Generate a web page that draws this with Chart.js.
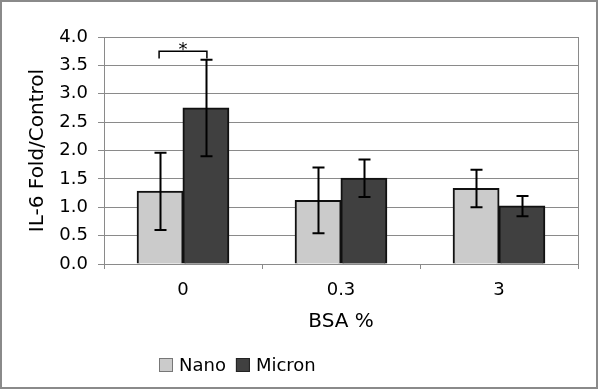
<!DOCTYPE html>
<html>
<head>
<meta charset="utf-8">
<script src="https://cdn.jsdelivr.net/npm/chart.js@4/dist/chart.umd.min.js"></script>
<style>
  html, body { margin: 0; padding: 0; background: #fff; }
  #wrap { width: 600px; height: 391px; position: relative; }
</style>
</head>
<body>
<div id="wrap"><canvas id="c" width="600" height="391"></canvas></div>
<script>
// ---- data ----
const categories = ['0', '0.3', '3'];
const seriesNames = ['Nano', 'Micron'];
const nanoValues = [1.28, 1.12, 1.33];
const micronValues = [2.75, 1.51, 1.02];
const nanoErrors = [0.68, 0.58, 0.33];
const micronErrors = [0.85, 0.33, 0.18];
const yTicks = [0, 0.5, 1, 1.5, 2, 2.5, 3, 3.5, 4];
const sigCategory = 0;
const sigLevel = 3.75;
const sigLegLevel = 3.62;
const sigLabel = '*';
const xTitle = 'BSA %';
const yTitle = 'IL-6 Fold/Control';

const FONT = 'DejaVu Sans, Verdana, sans-serif';
const colors = ['#cbcbcb', '#404040'];
const errors = [nanoErrors, micronErrors];

const frameBg = {
  id: 'frameBg',
  beforeDraw(chart) {
    const ctx = chart.ctx;
    ctx.save();
    ctx.fillStyle = '#fff';
    ctx.fillRect(0, 0, chart.width, chart.height);
    ctx.restore();
  },
  afterDraw(chart) {
    const ctx = chart.ctx;
    const a = chart.chartArea;
    ctx.save();
    ctx.strokeStyle = '#8a8a8a';
    ctx.lineWidth = 2;
    ctx.strokeRect(1, 1, 596, 387);
    ctx.lineWidth = 1;
    ctx.beginPath();
    ctx.moveTo(a.right + 0.5, a.top);
    ctx.lineTo(a.right + 0.5, a.bottom);
    ctx.stroke();
    ctx.restore();
  }
};

const errorBars = {
  id: 'errorBars',
  afterDatasetsDraw(chart) {
    const ctx = chart.ctx;
    const ys = chart.scales.y;
    ctx.save();
    ctx.strokeStyle = '#000';
    ctx.lineWidth = 2;
    chart.data.datasets.forEach((ds, di) => {
      const meta = chart.getDatasetMeta(di);
      meta.data.forEach((bar, i) => {
        const v = ds.data[i], e = errors[di][i];
        const x = Math.round(bar.x) + 0.5;
        const yt = ys.getPixelForValue(v + e);
        const yb = ys.getPixelForValue(v - e);
        ctx.beginPath();
        ctx.moveTo(x, yt); ctx.lineTo(x, yb);
        ctx.moveTo(x - 6, yt); ctx.lineTo(x + 6, yt);
        ctx.moveTo(x - 6, yb); ctx.lineTo(x + 6, yb);
        ctx.stroke();
      });
    });
    // significance bracket
    const x1 = chart.getDatasetMeta(0).data[sigCategory].x;
    const x2 = chart.getDatasetMeta(1).data[sigCategory].x;
    const yTop = ys.getPixelForValue(sigLevel);
    const yLeg = ys.getPixelForValue(sigLegLevel);
    ctx.lineWidth = 1.5;
    ctx.beginPath();
    ctx.moveTo(x1 - 1, yLeg); ctx.lineTo(x1 - 1, yTop); ctx.lineTo(x2 + 1, yTop); ctx.lineTo(x2 + 1, yLeg);
    ctx.stroke();
    ctx.fillStyle = '#000';
    ctx.font = '18px ' + FONT;
    ctx.textAlign = 'center';
    ctx.textBaseline = 'alphabetic';
    ctx.fillText(sigLabel, (x1 + x2) / 2, yTop + 4);
    ctx.restore();
  }
};

const customLegend = {
  id: 'customLegend',
  afterDraw(chart) {
    const ctx = chart.ctx;
    ctx.save();
    ctx.font = '18px ' + FONT;
    ctx.textBaseline = 'middle';
    ctx.textAlign = 'left';
    let x = 159;
    const yc = 365;
    seriesNames.forEach((name, i) => {
      ctx.fillStyle = colors[i];
      ctx.fillRect(x, yc - 7, 14, 14);
      ctx.strokeStyle = i === 0 ? '#777' : '#222';
      ctx.lineWidth = 1;
      ctx.strokeRect(x + 0.5, yc - 6.5, 13, 13);
      ctx.fillStyle = '#000';
      ctx.fillText(name, x + 20, yc + 1);
      x += 20 + ctx.measureText(name).width + 10;
    });
    ctx.restore();
  }
};

new Chart(document.getElementById('c'), {
  type: 'bar',
  data: {
    labels: categories,
    datasets: [
      { label: seriesNames[0], data: nanoValues, backgroundColor: colors[0], borderColor: '#111', borderWidth: 2, inflateAmount: 0.5 },
      { label: seriesNames[1], data: micronValues, backgroundColor: colors[1], borderColor: '#111', borderWidth: 2, inflateAmount: 0.5 }
    ]
  },
  options: {
    responsive: false,
    animation: false,
    devicePixelRatio: 1,
    layout: { padding: { top: 37, right: 22, left: 0, bottom: 0 } },
    datasets: { bar: { categoryPercentage: 0.58, barPercentage: 1.0 } },
    plugins: { legend: { display: false }, tooltip: { enabled: false } },
    scales: {
      x: {
        grid: { display: true, drawOnChartArea: false, drawTicks: true, tickLength: 5, color: '#8a8a8a', offset: true },
        border: { display: true, color: '#8a8a8a', width: 1 },
        ticks: { color: '#000', font: { family: FONT, size: 18 }, padding: 11 },
        title: { display: true, text: xTitle, color: '#000', font: { family: FONT, size: 20 }, padding: { top: 0, bottom: 57 } },
        afterFit(scale) { scale.height = 127; }
      },
      y: {
        min: 0, max: 4,
        afterBuildTicks(scale) { scale.ticks = yTicks.map(v => ({ value: v })); },
        grid: { color: '#8a8a8a', tickLength: 6, drawTicks: true },
        border: { display: true, color: '#8a8a8a', width: 1 },
        ticks: { color: '#000', font: { family: FONT, size: 18 }, padding: 10, callback: v => Number(v).toFixed(1) },
        title: { display: true, text: yTitle, color: '#000', font: { family: FONT, size: 20 }, padding: { top: 26, bottom: 0 } },
        afterFit(scale) { scale.width = 104; }
      }
    }
  },
  plugins: [frameBg, errorBars, customLegend]
});
</script>
</body>
</html>
